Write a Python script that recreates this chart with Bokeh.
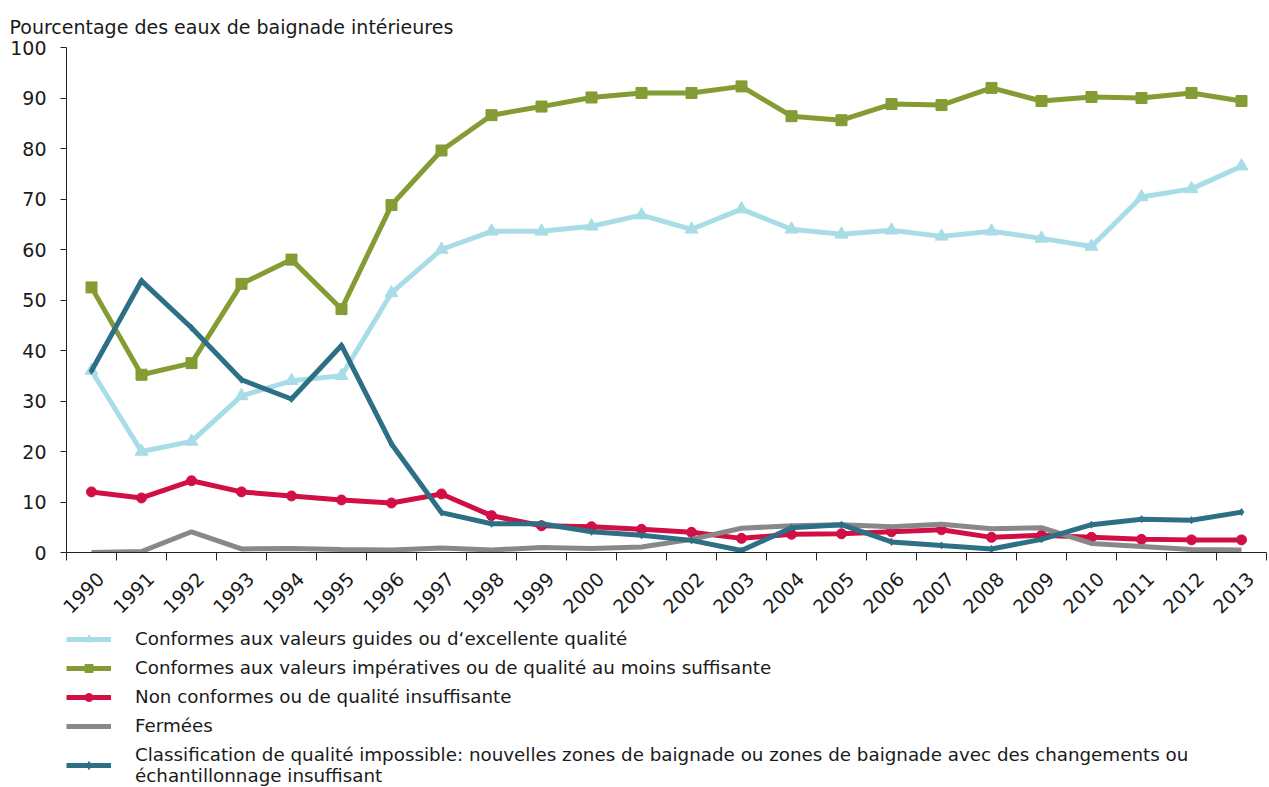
import math
from bokeh.plotting import figure
from bokeh.layouts import column
from bokeh.models import (LinearAxis, FixedTicker, Range1d, Legend, LegendItem, Title,
                          CustomJSTickFormatter)
from bokeh.embed import file_html
from bokeh.resources import INLINE

years = list(range(1990, 2014))

excellent = [36, 20, 22, 31, 34, 35, 51.4, 60, 63.6, 63.6, 64.6, 66.8, 64, 68, 64, 63, 63.8, 62.6, 63.6, 62.2, 60.6, 70.4, 72, 76.5]
sufficient = [52.5, 35.2, 37.5, 53.2, 58, 48.2, 68.8, 79.6, 86.6, 88.3, 90.1, 91, 91, 92.3, 86.4, 85.6, 88.8, 88.6, 92, 89.4, 90.2, 90, 91, 89.4]
poor = [12, 10.8, 14.2, 12, 11.2, 10.4, 9.8, 11.6, 7.3, 5.3, 5.1, 4.6, 4.0, 2.8, 3.6, 3.7, 4.1, 4.5, 3.0, 3.4, 3.0, 2.6, 2.5, 2.5]
closed = [0, 0.2, 4.1, 0.7, 0.8, 0.6, 0.5, 0.9, 0.5, 1.0, 0.8, 1.1, 2.6, 4.8, 5.3, 5.5, 5.1, 5.6, 4.7, 4.9, 1.8, 1.2, 0.6, 0.5]
unclassified = [36, 53.8, 44.5, 34.2, 30.4, 41, 21.5, 7.9, 5.7, 5.7, 4.1, 3.4, 2.4, 0.4, 4.9, 5.5, 2.1, 1.4, 0.7, 2.6, 5.5, 6.6, 6.4, 8.0]

labels = [
    "Conformes aux valeurs guides ou d\u2018excellente qualité",
    "Conformes aux valeurs impératives ou de qualité au moins suffisante",
    "Non conformes ou de qualité insuffisante",
    "Fermées",
    "Classification de qualité impossible: nouvelles zones de baignade ou zones de baignade avec des changements ou\néchantillonnage insuffisant",
]
y_ticks = list(range(0, 101, 10))
title_text = "Pourcentage des eaux de baignade intérieures"

FONT = "DejaVu Sans"
TXT = "#1a1a1a"
AX = "#222222"
W = 1268

p = figure(width=W, height=622, output_backend="svg", toolbar_location=None,
           x_range=Range1d(years[0] - 0.5, years[-1] + 0.5), y_range=Range1d(0, 100),
           x_axis_location=None, y_axis_location=None,
           min_border_left=59, min_border_right=2, min_border_top=47, min_border_bottom=68)
p.grid.visible = False
p.outline_line_color = None

t = Title(text=title_text, align="left", offset=-57, text_font=FONT,
          text_font_size="19px", text_font_style="normal", text_color=TXT,
          standoff=20)
p.add_layout(t, "above")

yaxis = LinearAxis(ticker=FixedTicker(ticks=y_ticks), major_tick_out=6, major_tick_in=0,
                   minor_tick_line_color=None, axis_line_color=AX,
                   major_tick_line_color=AX, major_label_text_font=FONT,
                   major_label_text_font_size="19px", major_label_text_color=TXT,
                   major_label_standoff=14)
p.add_layout(yaxis, "left")

bounds = [y - 0.5 for y in years] + [years[-1] + 0.5]
label_pos = [y + 0.18 for y in years]
xaxis = LinearAxis(ticker=FixedTicker(ticks=label_pos, minor_ticks=bounds),
                   formatter=CustomJSTickFormatter(code="return Math.round(tick).toString();"),
                   major_tick_line_color=None, major_tick_out=8, major_tick_in=0,
                   minor_tick_out=8, minor_tick_in=0, minor_tick_line_color=AX,
                   axis_line_color=AX,
                   major_label_orientation=math.pi / 4, major_label_text_font=FONT,
                   major_label_text_font_size="19px", major_label_text_color=TXT,
                   major_label_standoff=15)
p.add_layout(xaxis, "below")

series = [
    (excellent, "#A8DDE7", "triangle", 13),
    (sufficient, "#849C33", "square", 11),
    (poor, "#D10F45", "circle", 10),
    (closed, "#88888B", None, 0),
    (unclassified, "#2D6F84", "diamond", 7),
]

# legend lives in its own strip below the chart
lf = figure(width=W, height=164, output_backend="svg", toolbar_location=None,
            x_range=Range1d(0, 1), y_range=Range1d(1000, 1001),
            x_axis_location=None, y_axis_location=None,
            min_border_left=66, min_border_right=0, min_border_top=6, min_border_bottom=0)
lf.grid.visible = False
lf.outline_line_color = None

items = []
for (vals, col, mk, sz), lab in zip(series, labels):
    p.line(years, vals, line_color=col, line_width=5)
    if mk:
        p.scatter(years, vals, marker=mk, size=sz, fill_color=col, line_color=col)
    rs = [lf.line(years, vals, line_color=col, line_width=5)]
    if mk:
        rs.append(lf.scatter(years, vals, marker=mk, size=sz, fill_color=col, line_color=col))
    items.append(LegendItem(label=lab, renderers=rs))

legend = Legend(items=items, location="top_left", orientation="vertical",
                label_text_font=FONT, label_text_font_size="18.3px", label_text_color=TXT,
                glyph_width=45, glyph_height=20, label_height=20, label_standoff=24,
                spacing=8, padding=5, margin=0, border_line_color=None,
                background_fill_alpha=0)
lf.add_layout(legend, "center")

layout = column(p, lf, spacing=0)
open("out.html", "w").write(file_html(layout, INLINE))
